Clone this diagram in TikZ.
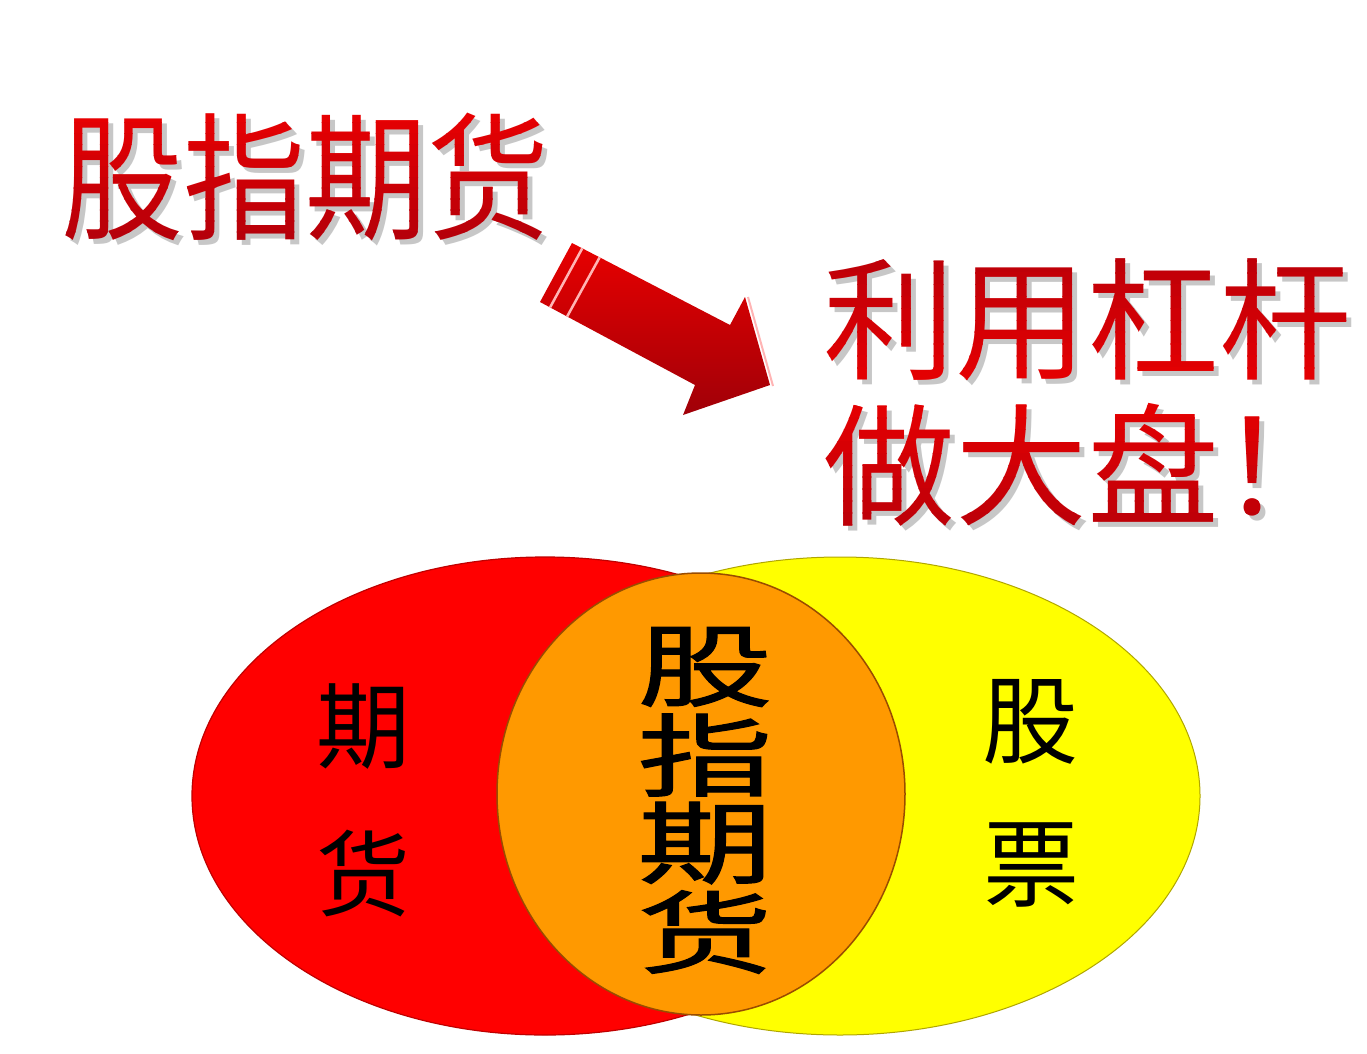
\documentclass[tikz,border=0pt]{standalone}
\usepackage{fontspec}
\newfontfamily\cjk{Noto Sans CJK SC}
\newfontfamily\cjkheavy[FakeBold=1.2]{Noto Sans CJK SC}
\usetikzlibrary{calc}
\definecolor{tred}{HTML}{F20000}
\definecolor{tdark}{HTML}{8E0010}
\definecolor{vennred}{HTML}{FF0000}
\definecolor{vennyellow}{HTML}{FFFF00}
\definecolor{vennorange}{HTML}{FF9900}
\definecolor{arrowtop}{HTML}{E80000}
\definecolor{arrowbot}{HTML}{A00008}
\definecolor{stripepink}{HTML}{FFB4B4}
\tikzset{
  txt/.style={inner sep=0pt, anchor=center},
  shadowtxt/.style={txt, text=black!22},
  cjkf/.style={font=\cjk\fontsize{#1}{#1}\selectfont},
  cjkbf/.style={font=\cjkheavy\fontsize{#1}{#1}\selectfont},
}
% #1 name, #2 x, #3 y, #4 size, #5 text, #6 top pct, #7 bottom pct, #8 extra options
\newcommand\gradtext[8]{%
  \node[shadowtxt, cjkf=#4, #8] (#1s) at (#2+5,#3+5) {#5};
  \foreach \i in {0,...,15}{%
    \pgfmathsetmacro\bandya{#3-0.72*#4+\i*1.44*#4/16}
    \pgfmathsetmacro\bandyb{\bandya+1.44*#4/16+0.6}
    \pgfmathtruncatemacro\bandpc{#6+(#7-#6)*(\i+0.5)/16}
    \begin{scope}
      \clip (0,\bandya) rectangle (1367,\bandyb);
      \node[txt, cjkf=#4, text=tred!\bandpc!tdark, #8] (#1b\i) at (#2,#3) {#5};
    \end{scope}}%
}
\begin{document}
\begin{tikzpicture}[x=1pt,y=-1pt]
\useasboundingbox[fill=white] (0,0) rectangle (1367,1054);

% Venn diagram
\fill[vennyellow, draw=olive!70!yellow, line width=1pt] (840,796) ellipse [x radius=360, y radius=239];
\fill[vennred, draw=red!75!black, line width=1.2pt] (545,796) ellipse [x radius=353, y radius=239];
\fill[vennorange, draw=orange!60!black, line width=1.5pt] (701,794) ellipse [x radius=204, y radius=221];

\node[txt, cjkf=94] (qi) at (363,727) {期};
\node[txt, cjkf=94] (huo) at (363,874) {货};
\node[txt, cjkf=96] (gu) at (1030,722) {股};
\node[txt, cjkf=96] (piao) at (1031,865) {票};

\node[txt, cjkbf=90, xscale=1.5] (c1) at (705,667) {股};
\node[txt, cjkbf=90, xscale=1.5] (c2) at (705,755) {指};
\node[txt, cjkbf=90, xscale=1.5] (c3) at (705,843) {期};
\node[txt, cjkbf=90, xscale=1.5] (c4) at (705,932) {货};

% titles
\gradtext{title}{305}{177}{122}{股指期货}{100}{30}{yscale=1.13}
\gradtext{lineA}{1087}{320}{132}{利用杠杆}{35}{100}{}
\gradtext{lineB}{1087}{465}{132}{做大盘！}{100}{35}{}

% arrow
\coordinate (A1) at (572,243);
\coordinate (A2) at (730,325);
\coordinate (A3) at (745,297);
\coordinate (A4) at (770,385);
\coordinate (A5) at (683,415);
\coordinate (A6) at (695,385);
\coordinate (A7) at (540,302);
\draw[stripepink, line width=2pt] ($(A3)+(3,0)$) -- ($(A4)+(3,1)$);
\shade[top color=arrowtop, bottom color=arrowbot] (A1) -- (A2) -- (A3) -- (A4) -- (A5) -- (A6) -- (A7) -- cycle;
\draw[stripepink, line width=2.5pt] ($(A1)!0.065!(A2)$) -- ($(A7)!0.065!(A6)$);
\draw[stripepink, line width=2.5pt] ($(A1)!0.175!(A2)$) -- ($(A7)!0.175!(A6)$);
\end{tikzpicture}
\end{document}
